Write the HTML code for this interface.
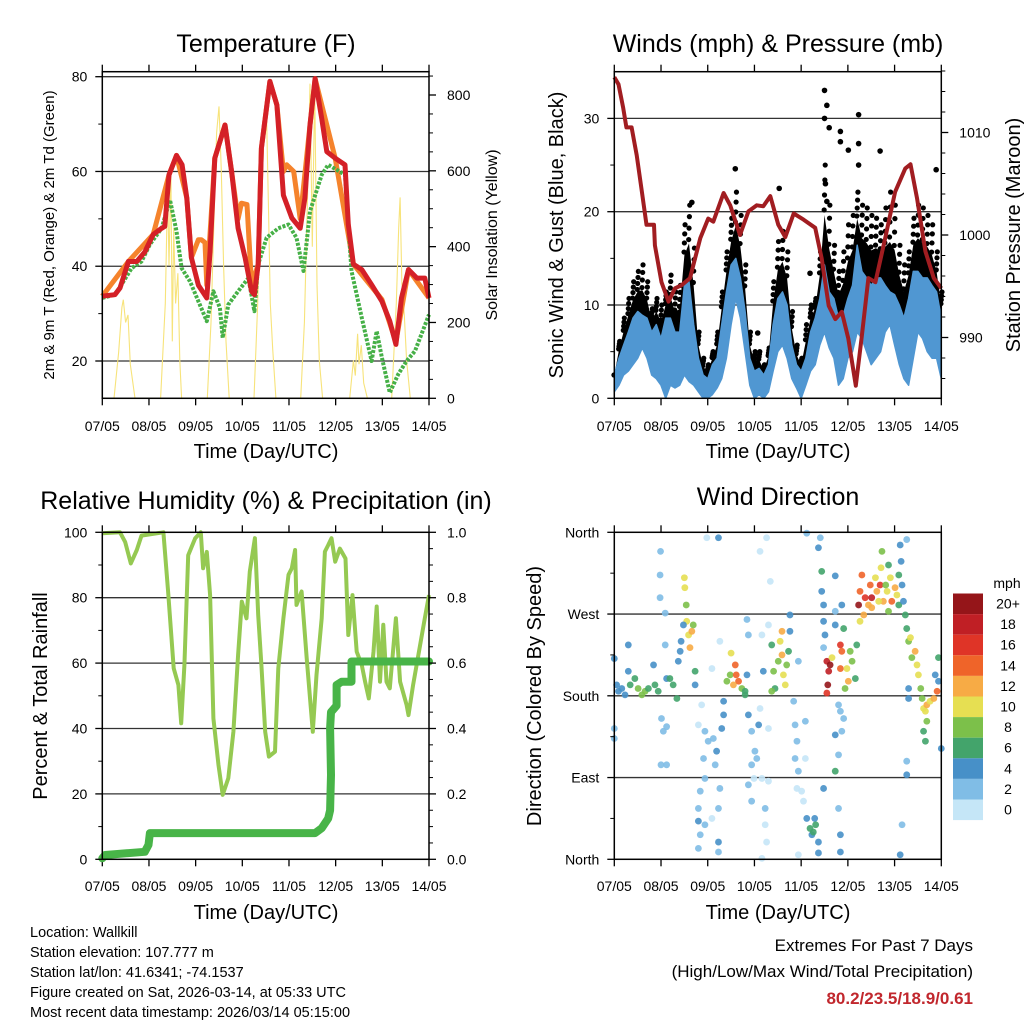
<!DOCTYPE html>
<html><head><meta charset="utf-8"><style>
html,body{margin:0;padding:0;background:#fff;}
svg text{font-family:"Liberation Sans",sans-serif;}
</style></head><body>
<svg id="s" width="1024" height="1024" viewBox="0 0 1024 1024" xmlns="http://www.w3.org/2000/svg">
<rect x="0" y="0" width="1024" height="1024" fill="#fff"/>
<text x="266" y="52" font-size="25" text-anchor="middle">Temperature (F)</text>
<text x="778" y="52" font-size="25" text-anchor="middle">Winds (mph) &amp; Pressure (mb)</text>
<text x="266" y="509" font-size="25" text-anchor="middle">Relative Humidity (%) &amp; Precipitation (in)</text>
<text x="778" y="505" font-size="25" text-anchor="middle">Wind Direction</text>
<text transform="translate(54,235) rotate(-90)" font-size="15" text-anchor="middle">2m &amp; 9m T (Red, Orange) &amp; 2m Td (Green)</text>
<text transform="translate(497,235) rotate(-90)" font-size="16" text-anchor="middle">Solar Insolation (Yellow)</text>
<text transform="translate(563,235) rotate(-90)" font-size="20" text-anchor="middle">Sonic Wind &amp; Gust (Blue, Black)</text>
<text transform="translate(1020,235) rotate(-90)" font-size="20" text-anchor="middle">Station Pressure (Maroon)</text>
<text transform="translate(47,696) rotate(-90)" font-size="20" text-anchor="middle">Percent &amp; Total Rainfall</text>
<text transform="translate(541,696) rotate(-90)" font-size="20" text-anchor="middle">Direction (Colored By Speed)</text>
<text x="266" y="458" font-size="20" text-anchor="middle">Time (Day/UTC)</text>
<text x="778" y="458" font-size="20" text-anchor="middle">Time (Day/UTC)</text>
<text x="266" y="919" font-size="20" text-anchor="middle">Time (Day/UTC)</text>
<text x="778" y="919" font-size="20" text-anchor="middle">Time (Day/UTC)</text>
<g font-size="14.5">
<text x="30" y="937">Location: Wallkill</text>
<text x="30" y="957">Station elevation: 107.777 m</text>
<text x="30" y="977">Station lat/lon: 41.6341; -74.1537</text>
<text x="30" y="997">Figure created on Sat, 2026-03-14, at 05:33 UTC</text>
<text x="30" y="1017">Most recent data timestamp: 2026/03/14 05:15:00</text>
</g>
<text x="973" y="951" font-size="17" text-anchor="end">Extremes For Past 7 Days</text>
<text x="973" y="977" font-size="17" text-anchor="end">(High/Low/Max Wind/Total Precipitation)</text>
<text x="973" y="1004" font-size="17" font-weight="bold" fill="#c1272d" text-anchor="end">80.2/23.5/18.9/0.61</text>
<text x="1007" y="588" font-size="14" text-anchor="middle">mph</text>
</svg>
<script>
// ---------- data ----------
const dayTicks=[0,1,2,3,4,5,6,7];
const dayLabels=['07/05','08/05','09/05','10/05','11/05','12/05','13/05','14/05'];
// temperature (red)
const redT=[0,.27,.38,.56,.74,.91,1.09,1.27,1.34,1.43,1.59,1.71,1.81,1.91,2.06,2.24,2.31,2.41,2.63,2.77,2.91,3.06,3.2,3.26,3.34,3.41,3.59,3.74,3.88,4.06,4.24,4.34,4.45,4.56,4.7,4.81,4.99,5.2,5.27,5.38,5.56,5.77,5.99,6.16,6.29,6.41,6.56,6.74,6.91,7];
const redV=[33.7,34,35.4,41,41,43,46.7,48,48.4,59.3,63.4,61.4,54.4,41.8,36,33.3,43.2,62.8,69.8,60,48,41.8,34.7,34,40.4,64.9,79,74,55,50.2,48,54.4,69.8,79.6,71.2,64.2,62.8,61.4,48.8,40.4,39.3,36.1,32.6,28.4,23.5,33.3,39.3,37.5,37.5,33.3];
// 9m temperature (orange)
const orT=[0,.56,1.09,1.43,1.59,1.81,1.91,2.06,2.12,2.2,2.24,2.41,2.63,2.77,2.91,2.98,3.1,3.2,3.34,3.41,3.59,3.74,3.88,3.95,4.1,4.24,4.45,4.56,4.99,5.38,5.99,6.29,6.56,7];
const orV=[33.7,41,46.7,59.3,63.4,54.4,41.8,45.6,45.6,45,36,62.8,69.8,60,50,53.3,53,36,40.4,64.9,79,74,60,61.4,60,50,69.8,79.6,62.8,40.4,33,24,39.3,33.3];
// dew point (green)
const tdT=[0,.27,.41,.63,.84,1.02,1.27,1.45,1.59,1.7,1.88,2.06,2.24,2.38,2.52,2.58,2.7,2.91,3.13,3.26,3.34,3.52,3.77,3.99,4.16,4.31,4.45,4.7,4.84,5.2,5.34,5.56,5.77,5.88,5.99,6.16,6.34,6.52,6.7,7];
const tdV=[33.3,34,36.1,39.6,41,44.6,48,54,47.4,39.6,36.8,32.6,28.4,34.7,31.2,24.9,31.9,34.7,37.5,30.5,40.4,46,48,48.8,46,39,51.6,59.3,61.4,59.3,39,29.1,20,26.3,20.7,13.3,17.2,20,22.1,29.8];
// solar insolation (yellow)
const solT=[0,.25,.35,.42,.45,.5,.55,.6,.7,1.25,1.35,1.4,1.43,1.47,1.5,1.53,1.57,1.62,1.66,1.7,2.25,2.33,2.4,2.45,2.5,2.55,2.6,2.65,2.72,3.25,3.33,3.4,3.47,3.52,3.56,3.6,3.65,3.72,4.25,4.33,4.4,4.45,4.5,4.55,4.6,4.65,4.72,5.3,5.38,5.42,5.47,5.5,5.55,5.6,5.68,6.2,6.3,6.35,6.38,6.42,6.47,6.52,6.6,7];
const solV=[0,0,120,240,260,200,220,90,0,0,250,560,350,600,150,450,250,330,100,0,0,200,500,700,770,600,350,150,0,0,250,550,700,740,500,250,130,0,0,200,550,830,400,820,300,100,0,0,100,60,170,90,140,40,0,0,250,450,530,300,220,100,0,0];
// wind (blue band lo/hi) and gust (black), every 0.1 day
const windLo=[.7,1.4,2.5,2.9,3.6,4.3,5.4,4.3,2.5,2.1,1.4,0,1.4,1.1,1.4,2.5,1.8,1.4,.7,0,0,.4,1.1,2.1,4.3,7.9,10.7,8.6,5,1.4,0,.4,0,.7,2.9,5,5.7,4.3,2.1,1.1,0,1.4,2.9,3.6,5.7,7.1,5.4,4.3,1.4,2.1,4.3,5,7.1,6.4,5,3.6,4.3,5,7.1,7.9,5.7,3.6,2.1,1.4,4.3,7.1,6.4,5,4.3,4.3,2.1];
const windHi=[2.5,4.3,5.7,7.1,8.6,9.3,8.9,8.6,7.1,7.9,6.4,8.6,8.6,7.1,7.1,12.1,12.5,7.9,4.3,2.5,2.1,3.6,4.3,7.9,11.4,14.3,15,12.9,9.3,4.3,2.9,3.2,2.5,3.6,7.9,10.7,11.4,10,5.7,3.6,2.9,4.3,7.1,8.6,10.7,14.3,11.4,10.7,8.6,8.9,10.7,12.1,16.4,13.6,12.9,12.1,12.9,12.9,12.1,11.4,11.1,10,8.6,10.7,13.6,13.6,12.9,12.9,12.1,11.4,8.6];
const gustV=[2.5,6.1,8.6,10.7,12.5,13.6,14.3,12.5,9.6,10.7,10,11.4,13.2,11.4,12.1,18.6,20.7,16.1,7.1,4.3,3.6,5,7.1,11.4,15.7,19.3,22.1,19.6,14.3,7.1,5,5,3.6,5.4,12.5,16.8,17.9,15.7,9.3,5.7,4.3,7.9,10,10.7,15.7,25,20.7,16.4,13.6,15.7,18.6,19.6,22.1,20.7,20.4,19.6,19.3,18.6,20.4,22.1,20.7,16.4,14.3,15.7,19.3,20.7,20.4,19.6,18.6,15.7,11.4];
const gustOutT=[4.5,4.55,5.23,4.84,4.84,5.01,5.69,6.89,1.66,2.59,3.53,4.19,3.07,4.55,5.23,5.23,4.6,4.5,4.52];
const gustOutV=[33,31.4,30.4,28.6,27.5,26.6,26.5,24.5,21,24.6,22.5,13.4,7,21.1,27.3,25,29,30,23];
// station pressure (maroon)
const presT=[0,.09,.19,.26,.37,.48,.59,.69,.85,.87,1.01,1.16,1.3,1.44,1.62,1.84,2.01,2.12,2.34,2.48,2.69,2.87,3.05,3.19,3.34,3.51,3.66,3.84,4.05,4.3,4.44,4.59,4.73,4.87,5.01,5.17,5.3,5.44,5.59,5.8,6.01,6.23,6.34,6.48,6.66,6.84,7];
const presV=[1015.4,1014.7,1012.4,1010.5,1010.5,1007.8,1004.2,1001,1001,999,995.4,993.5,994.8,995.1,995.8,999.7,1001.6,1001.3,1004.1,1002.9,1000,1002.3,1002.9,1002.8,1003.8,1001,999.8,1002.1,1001.5,1000.7,997.7,993.1,991.8,992.5,989.9,985.3,990.2,995.8,995.4,999.7,1004.2,1006.5,1006.9,1003.6,998.4,995.8,994.8];
// relative humidity
const rhT=[0,.38,.49,.61,.74,.84,1.31,1.41,1.53,1.63,1.69,1.76,1.84,1.99,2.11,2.16,2.24,2.31,2.38,2.49,2.58,2.7,2.81,2.91,2.99,3.09,3.16,3.27,3.34,3.41,3.49,3.57,3.7,3.77,3.88,3.99,4.06,4.13,4.16,4.27,4.38,4.51,4.59,4.7,4.77,4.84,4.91,4.99,5.09,5.21,5.27,5.36,5.45,5.56,5.63,5.71,5.81,5.88,5.95,6.02,6.09,6.16,6.29,6.38,6.52,6.56,6.66,6.81,6.91,7];
const rhV=[99.7,100,97,90.5,94.6,99,100,81.9,58.4,53.3,41.6,59.4,93,98.2,100,89,94,80.8,43.1,28.8,19.7,24.8,39,62.5,78.8,73.7,88,98.2,74.7,59.4,39,31.4,32.9,58.4,73.7,87,89,94.6,77.8,81.9,61.5,39,56.4,73.7,94.1,96.1,98.2,91,95,92,68.6,80.8,63.5,59.4,54.3,49.2,63.5,77.3,54.3,71.7,54.3,52.3,73.7,54.3,47.2,44.1,53.3,65.5,73.7,80.8];
// cumulative precipitation
const prT=[0,.06,.91,.99,1.02,4.56,4.7,4.84,4.88,4.89,4.9,4.88,4.9,5.02,5.02,5.13,5.34,5.34,7];
const prV=[.003,.013,.023,.044,.08,.08,.095,.125,.15,.2,.258,.4,.45,.47,.533,.543,.543,.605,.605];
// wind direction scatter: time (day), direction (deg), speed (mph)
const dirT=[0,.05,.09,.16,.23,.3,.3,.34,.44,.51,.59,.66,.73,.84,.87,.94,.98,.99,.98,1.01,1.05,1,1.12,1.09,1.12,1.19,1.26,1.34,1.37,1.41,1.5,1.51,1.54,1.55,1.59,1.62,1.66,1.69,1.73,1.73,1.48,1.43,1.09,1.12,
1.87,1.8,1.94,2.01,1.91,2.12,2.19,2.16,1.94,1.84,1.8,1.8,1.84,1.8,1.94,2.09,2.23,2.23,2.23,2.26,1.98,2.23,2.26,2.09,2.34,2.34,2.3,
2.5,2.48,2.41,2.59,2.61,2.66,2.55,2.73,2.8,2.84,2.87,2.84,2.8,
2.94,3.01,2.94,3.05,3.09,2.99,3.16,3.3,3.23,3.23,3.26,3.16,2.94,2.87,3.12,3.16,3.19,3.26,3.34,3.3,3.12,3.3,2.87,
3.37,3.41,3.44,3.51,3.55,3.59,3.59,3.62,3.66,3.69,3.73,3.76,3.76,3.37,3.94,
3.84,3.87,3.91,3.87,3.94,3.91,4.01,4.05,3.94,4.09,4.09,
4.12,4.19,4.23,4.29,4.37,4.37,4.26,4.31,4.48,4.12,4.41,4.37,
4.44,4.44,4.48,4.48,4.51,4.48,4.73,4.73,4.87,4.91,4.73,
4.55,4.59,4.57,4.62,4.55,4.66,
4.84,4.87,4.84,4.98,5.01,4.94,5.09,5.16,5.05,5.19,
4.8,4.84,4.91,4.73,4.8,4.73,4.8,4.84,4.84,4.87,
5.23,5.26,5.3,5.34,5.37,5.48,5.51,5.59,5.62,5.69,5.73,5.71,5.76,5.84,5.87,5.91,5.94,6.01,6.05,6.09,5.26,5.44,5.81,5.87,5.66,6.09,5.51,
6.12,6.14,6.16,6.19,6.23,6.26,6.3,6.26,6.12,6.16,6.26,6.26,6.3,6.3,
6.34,6.37,6.44,6.48,6.51,6.56,6.59,6.62,6.66,6.69,6.76,6.84,6.91,6.87,6.94,6.94,6.62,6.66,6.69,7,0,0];
const dirV=[221,192,185,188,181,236,207,192,199,188,181,185,188,214,192,185,313,339,288,155,141,104,104,236,199,199,192,177,218,229,310,299,280,262,247,233,251,258,207,192,258,240,271,146,
170,148,141,130,111,133,119,104,89,75,56,42,27,12,38,45,56,19,8,78,354,354,240,210,174,159,144,
227,203,196,214,203,196,192,188,185,203,159,264,181,
141,119,104,111,148,89,89,86,56,38,19,1,64,82,166,247,207,354,306,258,339,144,247,
236,207,188,218,240,251,225,203,192,214,229,269,251,185,218,
174,148,130,111,97,78,75,64,5,152,111,
45,34,27,45,19,7,30,38,78,359,354,343,
317,295,280,262,247,233,312,273,280,254,258,
218,207,192,214,183,222,
236,229,210,210,196,188,218,199,229,236,
170,163,155,137,115,97,56,27,8,141,
280,295,313,269,288,302,288,310,295,302,339,321,284,295,273,310,284,299,291,280,262,280,302,324,284,313,277,
346,328,302,284,269,254,240,352,5,38,108,93,177,188,
244,222,229,214,203,188,177,166,163,170,174,177,185,203,222,196,141,130,152,122,144,133];
const dirS=[4,4,4,4,4,4,4,6,7,8,8,8,6,4,7,6,3,2,3,3,2,2,2,3,4,7,7,6,4,4,10,10,8,10,10,12,13,8,6,4,4,4,2,2,
0,0,2,2,2,2,4,2,2,2,2,4,2,2,2,0,2,4,2,2,0,4,0,0,4,4,4,
10,8,8,14,14,14,12,8,6,4,4,3,6,
2,2,2,2,4,0,0,0,2,0,0,0,2,2,0,0,4,0,0,0,0,0,2,
6,8,6,8,10,12,12,10,10,8,6,4,4,8,3,
2,2,2,2,2,0,0,0,0,2,0,
4,6,4,4,4,4,6,6,4,2,2,4,
6,4,4,4,4,2,4,2,4,6,4,
18,18,20,20,16,10,
16,14,14,10,12,8,8,6,8,6,
2,2,2,4,2,6,2,4,4,2,
20,14,14,12,16,14,18,10,12,16,8,10,12,10,8,10,14,12,10,6,10,12,8,6,10,6,12,
4,4,4,4,6,6,8,2,4,2,2,4,4,4,
10,8,12,10,10,8,8,10,10,12,10,12,14,4,6,4,6,6,8,4,2,2];
const cbarLabels=['20+','18','16','14','12','10','8','6','4','2','0'];
const cbarColors=['#951519','#c01f25','#df3427','#ef6429','#f7ab45','#e6df52','#7cc04a','#43a46b','#4790c8','#80bde6','#c5e6f7'];

// ---------- helpers ----------
const svg=document.getElementById('s');
const NS='http://www.w3.org/2000/svg';
function mk(tag,attrs,name){
  const el=document.createElementNS(NS,tag);
  for(const k in attrs) el.setAttribute(k,attrs[k]);
  
  
  svg.appendChild(el);
  return el;
}
function txt(x,y,s,size,anchor,name){
  const t=mk('text',{x:x,y:y,'font-size':size,'text-anchor':anchor},name);
  t.textContent=s;
  return t;
}
function pts(xs,ys,fx,fy){return xs.map((t,i)=>fx(t).toFixed(1)+','+fy(ys[i]).toFixed(1)).join(' ');}

function lin(d0,d1,r0,r1){return v=>r0+(v-d0)*(r1-r0)/(d1-d0);}
const P1={x0:102.3,x1:429,y0:71.7,y1:398.3};
const P2={x0:614.3,x1:941.3,y0:71.7,y1:398.3};
const P3={x0:102.3,x1:429,y0:532.3,y1:859.3};
const P4={x0:614.3,x1:941.3,y0:532.3,y1:859.3};

function frame(P,prefix,labY){
  const fx=lin(0,7,P.x0,P.x1);
  dayTicks.forEach((d,i)=>{
    mk('line',{x1:fx(d),x2:fx(d),y1:P.y1,y2:P.y1+7,stroke:'#000','stroke-width':1.3},prefix+'-x-tick');
    mk('line',{x1:fx(d),x2:fx(d),y1:P.y0,y2:P.y0-7,stroke:'#000','stroke-width':1.3},prefix+'-top-tick');
    txt(fx(d),labY,dayLabels[i],14,'middle',prefix+'-x-tick-label');
  });
  return fx;
}
function yaxis(P,prefix,scale,majors,labels,minors,side){
  const x=side==='left'?P.x0:P.x1, dir=side==='left'?-1:1;
  majors.forEach((v,i)=>{
    mk('line',{x1:x,x2:x+dir*7,y1:scale(v),y2:scale(v),stroke:'#000','stroke-width':1.3},prefix+'-major-tick');
    txt(side==='left'?x-15:x+18,scale(v)+5,labels[i],14,side==='left'?'end':'start',prefix+'-tick-label');
  });
  minors.forEach(v=>{
    mk('line',{x1:x,x2:x+dir*4,y1:scale(v),y2:scale(v),stroke:'#000','stroke-width':1},prefix+'-minor-tick');
  });
}
function grid(P,prefix,scale,vals){
  vals.forEach(v=>mk('line',{x1:P.x0,x2:P.x1,y1:scale(v),y2:scale(v),stroke:'#333','stroke-width':1.3},prefix+'-grid-line'));
}
function border(P,prefix){
  mk('rect',{x:P.x0,y:P.y0,width:P.x1-P.x0,height:P.y1-P.y0,fill:'none',stroke:'#000','stroke-width':1.5},prefix+'-plot-frame');
}

// ---------- panel 1: temperature ----------
(function(){
  const fx=frame(P1,'temp',431);
  const fy=lin(20,80,361,76.7);
  const fs=lin(0,800,398.3,95);
  grid(P1,'temp',fy,[20,40,60,80]);
  mk('polyline',{points:pts(solT,solV,fx,fs),fill:'none',stroke:'#f7e37a','stroke-width':1.1},'solar-insolation-line');
  mk('polyline',{points:pts(orT,orV,fx,fy),fill:'none',stroke:'#f5832c','stroke-width':5,'stroke-linejoin':'round'},'temp-9m-line');
  mk('polyline',{points:pts(tdT,tdV,fx,fy),fill:'none',stroke:'#46b047','stroke-width':4,'stroke-dasharray':'3 1.5','stroke-linejoin':'round'},'dewpoint-2m-line');
  mk('polyline',{points:pts(redT,redV,fx,fy),fill:'none',stroke:'#d42027','stroke-width':5,'stroke-linejoin':'round'},'temp-2m-line');
  border(P1,'temp');
  yaxis(P1,'temp-left',fy,[20,40,60,80],['20','40','60','80'],[30,50,70],'left');
  yaxis(P1,'solar-right',fs,[0,200,400,600,800],['0','200','400','600','800'],[50,100,150,250,300,350,450,500,550,650,700,750,850],'right');
})();

// ---------- panel 2: winds & pressure ----------
(function(){
  const fx=frame(P2,'wind',431);
  const fy=lin(0,30,398.3,118.4);
  const fp=lin(990,1010,337.5,132.5);
  grid(P2,'wind',fy,[10,20,30]);
  const wt=windLo.map((v,i)=>i*0.1);
  const gm=windHi.map((v,i)=>(v+gustV[i])/2);
  const bandPts=pts(wt,windHi,fx,fy)+' '+pts(wt.slice().reverse(),gm.slice().reverse(),fx,fy);
  mk('polygon',{points:bandPts,fill:'#000'},'gust-band');
  gustV.forEach((g,i)=>{
    [0.55,0.7,0.85,1].forEach(f=>{
      const v=windHi[i]+(g-windHi[i])*f;
      mk('circle',{cx:fx(wt[i]+(f-0.7)*0.05),cy:fy(v),r:2.6,fill:'#000'},'gust-point');
    });
  });
  gustOutT.forEach((t,i)=>mk('circle',{cx:fx(t),cy:fy(gustOutV[i]),r:2.8,fill:'#000'},'gust-point'));
  const blue=pts(wt,windHi,fx,fy)+' '+pts(wt.slice().reverse(),windLo.slice().reverse(),fx,fy);
  mk('polygon',{points:blue,fill:'#5097d2',stroke:'#5097d2','stroke-width':1.5,'stroke-linejoin':'round'},'wind-speed-band');
  mk('polyline',{points:pts(presT,presV,fx,fp),fill:'none',stroke:'#a11d21','stroke-width':4,'stroke-linejoin':'round'},'pressure-line');
  border(P2,'wind');
  yaxis(P2,'wind-left',fy,[0,10,20,30],['0','10','20','30'],[5,15,25],'left');
  yaxis(P2,'pressure-right',fp,[990,1000,1010],['990','1000','1010'],[986,988,992,994,996,998,1002,1004,1006,1008,1012,1014,1016],'right');
})();

// ---------- panel 3: humidity & precip ----------
(function(){
  const fx=frame(P3,'rh',891);
  const fy=lin(0,100,859.3,532.3);
  const fp=lin(0,1,859.3,532.3);
  grid(P3,'rh',fy,[20,40,60,80]);
  mk('polyline',{points:pts(rhT,rhV,fx,fy),fill:'none',stroke:'#95c952','stroke-width':4,'stroke-linejoin':'round'},'humidity-line');
  mk('polyline',{points:pts(prT,prV,fx,fp),fill:'none',stroke:'#48b448','stroke-width':8,'stroke-linejoin':'round','stroke-linecap':'round'},'precipitation-line');
  border(P3,'rh');
  yaxis(P3,'rh-left',fy,[0,20,40,60,80,100],['0','20','40','60','80','100'],[10,30,50,70,90],'left');
  yaxis(P3,'precip-right',fp,[0,.2,.4,.6,.8,1],['0.0','0.2','0.4','0.6','0.8','1.0'],[.05,.1,.15,.25,.3,.35,.45,.5,.55,.65,.7,.75,.85,.9,.95],'right');
})();

// ---------- panel 4: wind direction ----------
(function(){
  const fx=frame(P4,'dir',891);
  const fy=lin(0,360,859.3,532.3);
  grid(P4,'dir',fy,[90,180,270]);
  dirT.forEach((t,i)=>{
    const c=cbarColors[10-Math.min(10,Math.floor(dirS[i]/2))];
    mk('circle',{cx:fx(t),cy:fy(dirV[i]),r:3.4,fill:c,'fill-opacity':0.9},'direction-point');
  });
  border(P4,'dir');
  yaxis(P4,'dir-left',fy,[0,90,180,270,360],['North','East','South','West','North'],[45,135,225,315],'left');
  cbarLabels.forEach((l,i)=>{
    mk('rect',{x:953,y:593.5+i*20.6,width:30,height:20.6,fill:cbarColors[i]},'colorbar-swatch');
    txt(1008,608.5+i*20.6,l,14,'middle','colorbar-label');
  });
})();
</script>
</body></html>
